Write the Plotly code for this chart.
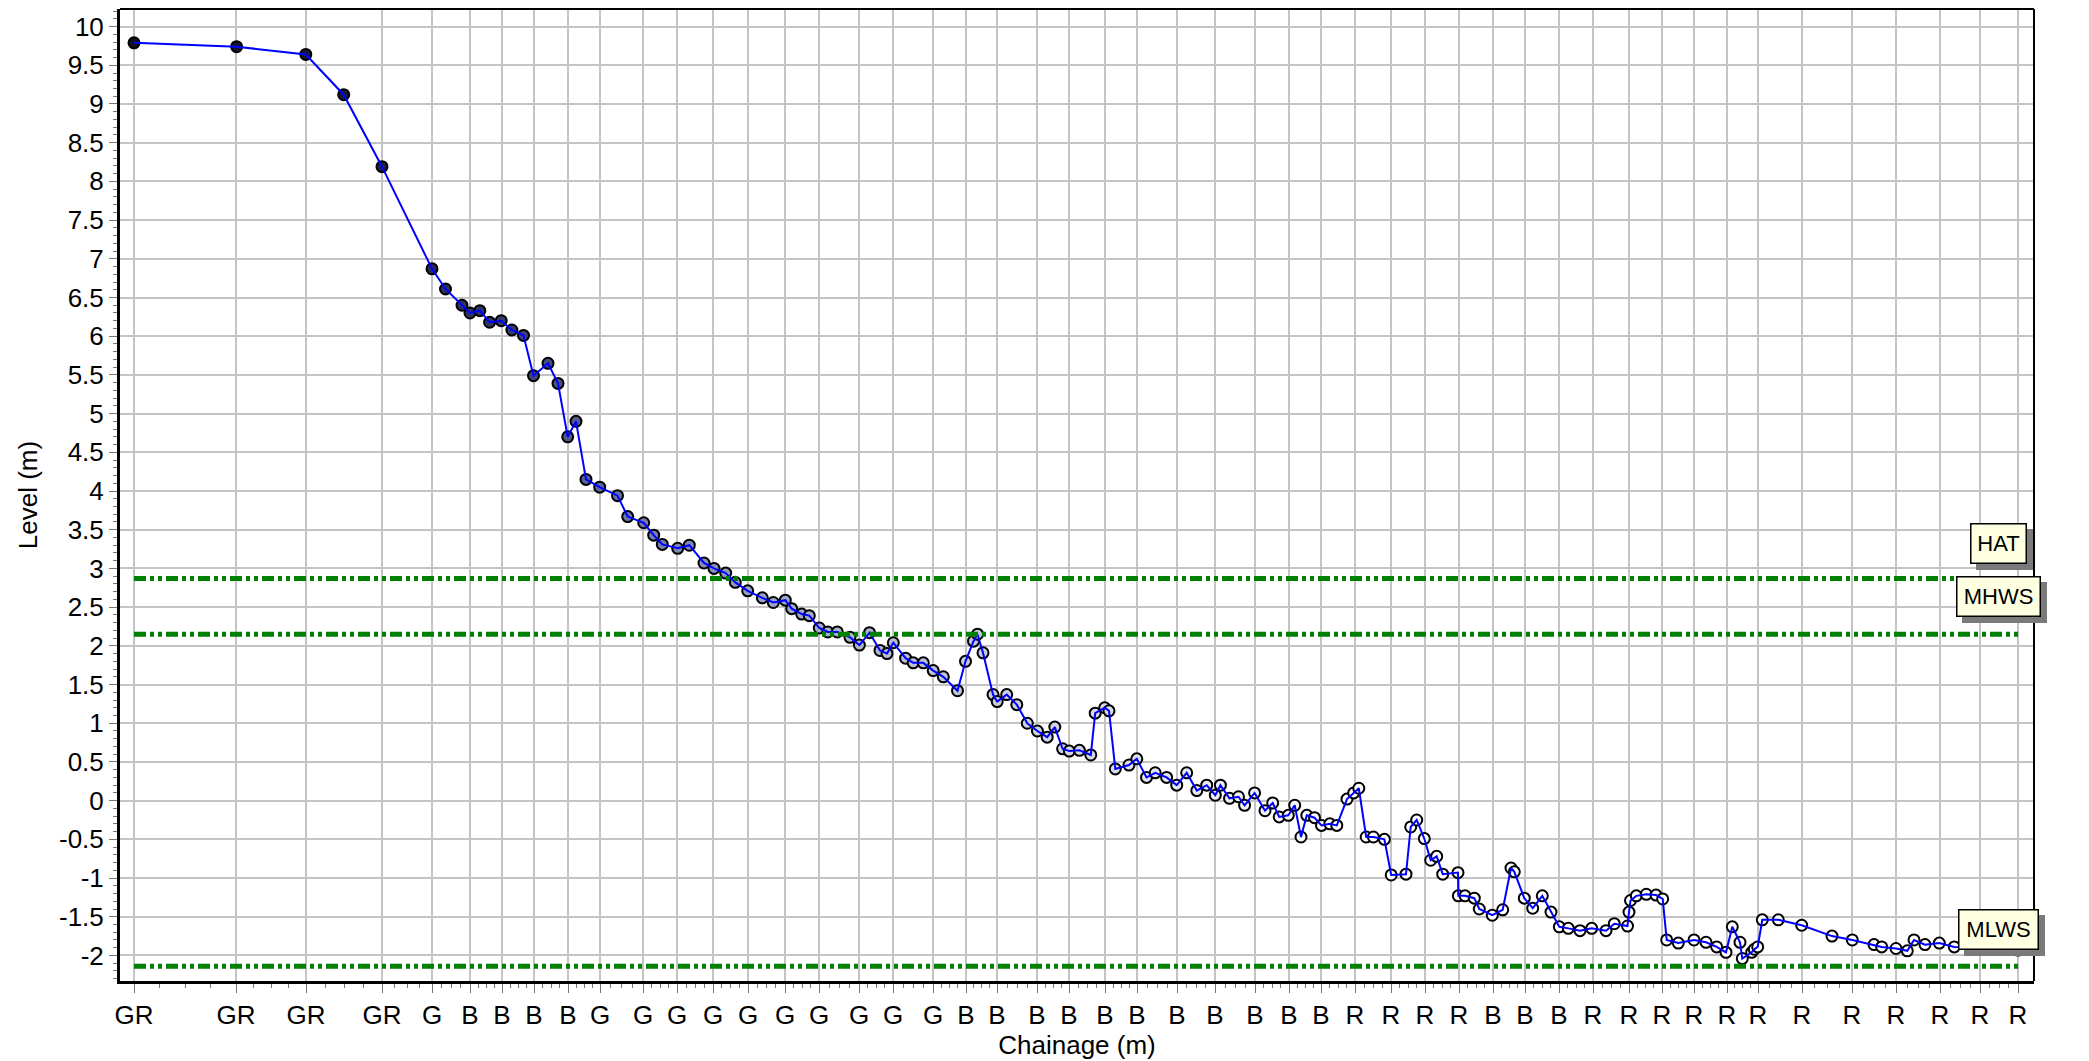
import plotly.graph_objects as go

# Surveyed beach profile: chainage along the line (m) and ground level (m)
chainage = [
    0.0, 10.26, 17.18, 20.97, 24.8, 29.8, 31.15, 32.8, 33.6, 34.58,
    35.56, 36.72, 37.79, 38.95, 39.95, 41.4, 42.4, 43.37, 44.2, 45.2,
    46.57, 48.35, 49.37, 50.97, 51.97, 52.83, 54.37, 55.53, 57.0, 58.0,
    59.17, 60.13, 61.37, 62.83, 63.93, 65.13, 65.77, 66.77, 67.53, 68.53,
    69.37, 70.33, 71.6, 72.54, 73.55, 74.6, 75.3, 75.93, 77.16, 77.92,
    78.93, 79.92, 80.93, 82.35, 83.15, 83.95, 84.35, 84.9, 85.9, 86.32,
    87.27, 88.28, 89.33, 90.34, 91.32, 92.08, 92.86, 93.53, 94.54, 95.68,
    96.12, 97.07, 97.5, 98.13, 99.5, 100.28, 101.25, 102.12, 103.26, 104.27,
    105.27, 106.28, 107.27, 108.13, 108.64, 109.55, 110.45, 111.06, 112.06, 113.1,
    113.87, 114.52, 115.43, 116.07, 116.7, 117.28, 118.05, 118.75, 119.58, 120.28,
    121.3, 121.97, 122.48, 123.22, 123.94, 125.04, 125.72, 127.2, 127.67, 128.27,
    129.03, 129.67, 130.27, 130.87, 132.4, 132.43, 133.1, 134.03, 134.53, 135.83,
    136.87, 137.7, 138.03, 139.03, 139.87, 140.83, 141.7, 142.53, 143.43, 144.6,
    145.77, 147.2, 148.03, 149.35, 149.5, 149.65, 150.23, 151.23, 152.2, 152.87,
    153.27, 154.43, 156.0, 157.2, 158.27, 159.2, 159.83, 160.6, 160.83, 161.77,
    162.03, 162.37, 162.83, 164.43, 166.77, 169.8, 171.83, 174.0, 174.77, 176.2,
    177.33, 178.0, 179.1, 180.53, 182.03, 184.6, 188.4,
]
level = [
    9.79, 9.74, 9.64, 9.12, 8.19, 6.87, 6.61, 6.40, 6.30, 6.33,
    6.18, 6.20, 6.08, 6.01, 5.49, 5.65, 5.39, 4.70, 4.90, 4.15,
    4.05, 3.94, 3.67, 3.59, 3.43, 3.31, 3.26, 3.30, 3.07, 3.00,
    2.94, 2.82, 2.71, 2.62, 2.56, 2.59, 2.48, 2.41, 2.39, 2.23,
    2.18, 2.18, 2.11, 2.01, 2.17, 1.94, 1.90, 2.04, 1.84, 1.78,
    1.78, 1.68, 1.60, 1.42, 1.80, 2.06, 2.15, 1.91, 1.37, 1.28,
    1.37, 1.24, 1.00, 0.90, 0.82, 0.95, 0.67, 0.64, 0.65, 0.59,
    1.13, 1.20, 1.16, 0.41, 0.46, 0.54, 0.30, 0.36, 0.30, 0.20,
    0.36, 0.13, 0.20, 0.07, 0.20, 0.03, 0.05, -0.06, 0.10, -0.13,
    -0.03, -0.21, -0.19, -0.06, -0.47, -0.19, -0.22, -0.32, -0.30, -0.32,
    0.02, 0.10, 0.16, -0.47, -0.47, -0.50, -0.96, -0.95, -0.34, -0.25,
    -0.49, -0.77, -0.72, -0.95, -0.93, -1.23, -1.23, -1.26, -1.40, -1.48,
    -1.41, -0.87, -0.92, -1.26, -1.39, -1.23, -1.44, -1.63, -1.65, -1.68,
    -1.65, -1.68, -1.59, -1.62, -1.44, -1.29, -1.23, -1.21, -1.22, -1.27,
    -1.80, -1.84, -1.80, -1.83, -1.89, -1.96, -1.63, -1.83, -2.04, -1.96,
    -1.92, -1.89, -1.54, -1.54, -1.61, -1.75, -1.80, -1.86, -1.89, -1.91,
    -1.94, -1.80, -1.86, -1.84, -1.89, -1.90, -1.93,
]

# Feature-coded survey points shown on the chainage axis
code_chainage = [
    0.0, 10.2, 17.2, 24.8, 29.8, 33.6, 36.8, 40.0, 43.4, 46.6,
    50.9, 54.3, 57.9, 61.4, 65.1, 68.5, 72.5, 75.9, 79.9, 83.2,
    86.3, 90.3, 93.5, 97.1, 100.3, 104.3, 108.1, 112.1, 115.5, 118.7,
    122.1, 125.7, 129.1, 132.5, 135.9, 139.1, 142.5, 145.9, 149.5, 152.8,
    156.0, 159.3, 162.4, 166.8, 171.8, 176.2, 180.6, 184.6, 188.4,
]
code_labels = [
    "GR", "GR", "GR", "GR", "G", "B", "B", "B", "B", "G",
    "G", "G", "G", "G", "G", "G", "G", "G", "G", "B",
    "B", "B", "B", "B", "B", "B", "B", "B", "B", "B",
    "R", "R", "R", "R", "B", "B", "B", "R", "R", "R",
    "R", "R", "R", "R", "R", "R", "R", "R", "R",
]

# Tidal datums (m)
tide_names = ["HAT", "MHWS", "MLWS"]
tide_levels = [2.87, 2.15, -2.14]
tide_label_levels = [3.32, 2.64, -1.67]

# Level axis ticks
level_ticks = [10, 9.5, 9, 8.5, 8, 7.5, 7, 6.5, 6, 5.5, 5, 4.5, 4, 3.5, 3,
               2.5, 2, 1.5, 1, 0.5, 0, -0.5, -1, -1.5, -2]
level_tick_labels = ["10", "9.5", "9", "8.5", "8", "7.5", "7", "6.5", "6", "5.5",
                     "5", "4.5", "4", "3.5", "3", "2.5", "2", "1.5", "1", "0.5",
                     "0", "-0.5", "-1", "-1.5", "-2"]

FONT = "Liberation Sans, Arial, sans-serif"
FS = 26

# quarter divisions between coded points
minor_x = []
for a, b in zip(code_chainage[:-1], code_chainage[1:]):
    for k in (1, 2, 3):
        minor_x.append(a + (b - a) * k / 4)

fig = go.Figure()

# point markers (drawn first so the profile line sits over them)
fig.add_trace(go.Scatter(
    x=chainage, y=level, mode="markers",
    marker=dict(
        size=11,
        color=chainage,
        cmin=0, cmax=188.4,
        colorscale=[[0, "#101022"], [0.12, "#1c1c3a"], [0.2, "#363c6c"],
                    [0.26, "#6874a6"], [0.33, "#98a2c4"], [0.45, "#c6cbdc"],
                    [0.58, "#eceef4"], [0.65, "#ffffff"], [1, "#ffffff"]],
        line=dict(color="black", width=2),
    ),
    showlegend=False, hoverinfo="skip",
))

# profile line
fig.add_trace(go.Scatter(
    x=chainage, y=level, mode="lines",
    line=dict(color="#0000ff", width=2),
    showlegend=False,
))

# tidal datum lines
for name, lv in zip(tide_names, tide_levels):
    fig.add_trace(go.Scatter(
        x=[code_chainage[0], code_chainage[-1]], y=[lv, lv], mode="lines",
        line=dict(color="#008000", width=5, dash="12px,4px,4px,4px,4px,4px"),
        name=name, showlegend=False,
    ))

# datum labels: a grey drop shadow box, then the label box on top
label_widths = {"HAT": 48, "MHWS": 76, "MLWS": 72}
for name, ly in zip(tide_names, tide_label_levels):
    common = dict(x=0.9814, xref="paper", y=ly, yref="y", showarrow=False,
                  width=label_widths[name], height=32, borderpad=3,
                  borderwidth=1.5, xanchor="center", yanchor="middle")
    fig.add_annotation(text=" ", bgcolor="#7a7a7a", bordercolor="#7a7a7a",
                       xshift=6, yshift=-6, **common)
    fig.add_annotation(text=name, bgcolor="#ffffe1", bordercolor="black",
                       font=dict(family=FONT, size=22, color="black"), **common)

fig.update_layout(
    width=2089, height=1061,
    margin=dict(l=120, r=55, t=9, b=80),
    plot_bgcolor="white", paper_bgcolor="white",
    font=dict(family=FONT, size=FS, color="black"),
    xaxis=dict(
        range=[-1.4, 190.0],
        tickmode="array", tickvals=code_chainage, ticktext=code_labels,
        ticks="outside", ticklen=9, tickwidth=1, tickcolor="#777777",
        showgrid=True, gridcolor="#c4c4c4", gridwidth=2,
        showline=True, linecolor="black", linewidth=3,
        zeroline=False,
        minor=dict(tickmode="array", tickvals=minor_x, ticks="outside",
                   ticklen=4, tickcolor="#777777", showgrid=False),
        title=dict(text="Chainage (m)", standoff=4, font=dict(size=FS)),
        tickfont=dict(size=FS),
        automargin=False,
    ),
    yaxis=dict(
        range=[-2.33, 10.227],
        tickmode="array", tickvals=level_ticks, ticktext=level_tick_labels,
        ticks="outside", ticklen=8, tickwidth=1, tickcolor="#777777",
        showgrid=True, gridcolor="#c4c4c4", gridwidth=2,
        showline=True, linecolor="black", linewidth=3,
        zeroline=False,
        minor=dict(tick0=0, dtick=0.1, ticks="outside", ticklen=4,
                   tickcolor="#777777", showgrid=False),
        title=dict(text="Level (m)", standoff=14, font=dict(size=FS)),
        tickfont=dict(size=FS),
        automargin=False,
    ),
    shapes=[
        dict(type="line", xref="paper", yref="paper", x0=0, x1=1, y0=1, y1=1,
             line=dict(color="black", width=2)),
        dict(type="line", xref="paper", yref="paper", x0=1, x1=1, y0=0, y1=1,
             line=dict(color="black", width=2)),
    ],
)

fig.write_html("out.html")
